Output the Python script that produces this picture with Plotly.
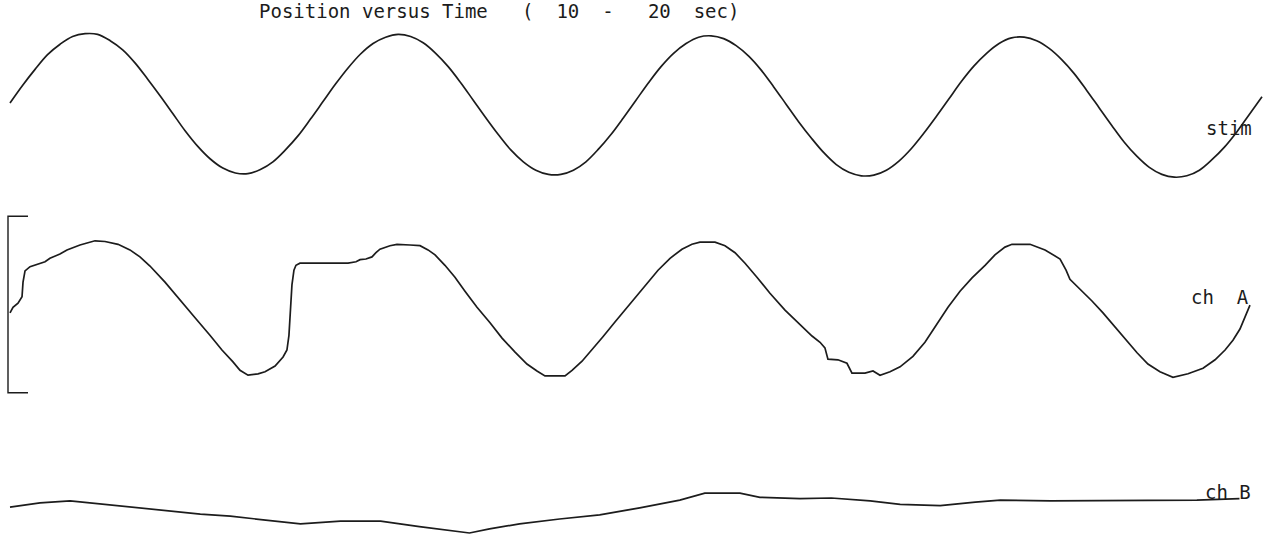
import plotly.graph_objects as go

# ---------------- data ----------------
# time base for the stimulus, 10 .. 20 s in 0.1 s steps
stim_t = [10 + i * 0.1 for i in range(101)]
stim_v = [0.0, 2.5, 4.8, 6.9, 8.4, 9.5, 9.9, 9.8, 8.9, 7.6,
          5.7, 3.4, 1.0, -1.5, -4.0, -6.2, -8.0, -9.3, -10.0, -10.1,
          -9.5, -8.4, -6.7, -4.7, -2.3, 0.2, 2.7, 5.0, 7.0, 8.5,
          9.4, 9.8, 9.5, 8.6, 7.1, 5.2, 2.9, 0.4, -2.1, -4.5,
          -6.7, -8.4, -9.6, -10.2, -10.2, -9.6, -8.4, -6.6, -4.5, -2.1,
          0.4, 2.9, 5.2, 7.1, 8.5, 9.4, 9.6, 9.2, 8.2, 6.7,
          4.7, 2.3, -0.2, -2.7, -5.0, -7.1, -8.8, -9.9, -10.4, -10.3,
          -9.6, -8.3, -6.5, -4.3, -1.9, 0.6, 3.1, 5.3, 7.1, 8.5,
          9.3, 9.4, 8.9, 7.8, 6.2, 4.2, 1.8, -0.7, -3.2, -5.6,
          -7.6, -9.2, -10.2, -10.6, -10.4, -9.6, -8.1, -6.3, -4.1, -1.6,
          0.9]

cha_t = [10.000, 10.024, 10.064, 10.080, 10.096, 10.104, 10.120, 10.160, 10.240, 10.280,
         10.319, 10.399, 10.455, 10.559, 10.679,
         10.759, 10.863, 10.958, 11.038, 11.118, 11.238, 11.358, 11.478, 11.597, 11.693,
         11.781, 11.837, 11.901,
         11.981, 12.037, 12.117, 12.181, 12.212, 12.228, 12.236, 12.244, 12.252, 12.268,
         12.284, 12.316,
         12.700, 12.764, 12.796, 12.843, 12.891, 12.923, 12.955, 13.035, 13.091, 13.195,
         13.275, 13.339, 13.395,
         13.474, 13.554, 13.634, 13.730, 13.834, 13.930, 14.034, 14.129, 14.209, 14.273,
         14.433,
         14.489, 14.569, 14.649, 14.736, 14.832, 14.952, 15.072, 15.176, 15.272, 15.367,
         15.447, 15.511, 15.631,
         15.711, 15.791, 15.871, 15.966, 16.070, 16.190, 16.310, 16.406, 16.470, 16.509,
         16.533, 16.613, 16.685, 16.725, 16.829, 16.893, 16.949, 17.029, 17.109, 17.212,
         17.308, 17.404, 17.492, 17.588, 17.684, 17.788, 17.867, 17.947, 18.003, 18.147,
         18.267, 18.387, 18.435, 18.466, 18.546, 18.642, 18.730, 18.826, 18.922, 19.002,
         19.089, 19.185, 19.289, 19.409, 19.529, 19.625, 19.705, 19.768, 19.824, 19.864,
         19.904]
cha_v = [-0.7, 0.1, 0.7, 1.1, 1.6, 3.7, 5.3, 5.9, 6.3, 6.6,
         7.1, 7.7, 8.3, 9.0, 9.6,
         9.5, 9.1, 8.3, 7.3, 6.0, 3.7, 1.1, -1.4, -3.9, -6.0,
         -7.7, -8.9, -9.6,
         -9.4, -9.1, -8.3, -7.0, -6.0, -3.9, -1.7, 1.1, 3.3, 5.4,
         6.1, 6.4,
         6.4, 6.6, 6.9, 7.0, 7.3, 7.9, 8.4, 8.9, 9.1, 9.0,
         8.9, 8.3, 7.6,
         6.1, 4.4, 2.4, 0.1, -2.1, -4.3, -6.3, -8.0, -9.0, -9.7,
         -9.7,
         -8.9, -7.6, -6.0, -4.1, -2.0, 0.6, 3.3, 5.4, 7.1, 8.4,
         9.1, 9.4, 9.4,
         8.9, 7.9, 6.4, 4.4, 2.1, -0.3, -2.4, -4.0, -4.9, -5.7,
         -7.3, -7.4, -7.9, -9.3, -9.3, -9.0, -9.6, -9.1, -8.4, -6.9,
         -4.9, -2.3, 0.1, 2.4, 4.3, 6.1, 7.6, 8.7, 9.1, 9.1,
         8.3, 7.0, 5.4, 4.1, 2.7, 1.0, -0.7, -2.7, -4.7, -6.4,
         -8.0, -9.1, -9.9, -9.4, -8.6, -7.4, -6.0, -4.6, -3.0, -1.4,
         0.4]

chb_t = [10.00, 10.24, 10.48, 10.64, 10.96, 11.20, 11.52, 11.76, 12.00, 12.32,
         12.64, 12.96, 13.27, 13.51, 13.67, 13.83, 14.07, 14.39, 14.71, 15.03,
         15.35, 15.55, 15.83, 15.99, 16.31, 16.56, 16.87, 17.11, 17.43, 17.71,
         17.91, 18.31, 18.71, 19.11, 19.48, 19.82]
chb_v = [-0.3, 0.3, 0.6, 0.3, -0.3, -0.7, -1.3, -1.6, -2.1, -2.7,
         -2.3, -2.3, -3.1, -3.6, -4.0, -3.4, -2.7, -2.0, -1.4, -0.4,
         0.7, 1.7, 1.7, 1.1, 0.9, 1.0, 0.6, 0.1, -0.1, 0.4,
         0.7, 0.6, 0.6, 0.7, 0.7, 0.9]

cha_scale = [-12.1, 13.1]          # calibration bracket of ch A
channel_names = ["stim", "ch  A", "ch B"]
title_text = "Position versus Time   (  10  -   20  sec)"

# ---------------- layout helpers ----------------
W, H = 1267, 540
PX = 7.0                           # pixels per position unit
T0_PX, T_PX = 10, 125.2            # pixel of t=10 s, pixels per second
lane_px = [103, 308, 505]          # vertical centre of each channel lane
offsets = [-c / PX for c in lane_px]

x_range = [10 - T0_PX / T_PX, 10 + (W - T0_PX) / T_PX]
y_range = [-H / PX, 0]

INK = "#1c1c1c"
line = dict(color=INK, width=1.7)

fig = go.Figure()
fig.add_trace(go.Scatter(x=stim_t, y=[v + offsets[0] for v in stim_v],
                         mode="lines", line=dict(shape="spline", **line),
                         hoverinfo="skip"))
fig.add_trace(go.Scatter(x=cha_t, y=[v + offsets[1] for v in cha_v],
                         mode="lines", line=line, hoverinfo="skip"))
fig.add_trace(go.Scatter(x=chb_t, y=[v + offsets[2] for v in chb_v],
                         mode="lines", line=line, hoverinfo="skip"))

# calibration bracket for ch A
bx0 = 10 - 2 / T_PX
bx1 = 10 + 18 / T_PX
ylo, yhi = cha_scale[0] + offsets[1], cha_scale[1] + offsets[1]
fig.add_trace(go.Scatter(x=[bx1, bx0, bx0, bx1], y=[yhi, yhi, ylo, ylo],
                         mode="lines", line=dict(color=INK, width=1.4),
                         hoverinfo="skip"))

font = dict(family="DejaVu Sans Mono, Liberation Mono, monospace",
            size=19, color=INK)
annotations = [dict(text=title_text.replace(" ", "&nbsp;"), x=257 / W, y=1 - 11 / H,
                    xref="paper", yref="paper", xanchor="left",
                    yanchor="middle", showarrow=False, font=font)]
label_pos = [(1254, 128), (1251, 297), (1253, 492)]
for name, (px, py) in zip(channel_names, label_pos):
    annotations.append(dict(text=name.replace(" ", "&nbsp;"), x=px / W, y=1 - py / H,
                            xref="paper", yref="paper", xanchor="right",
                            yanchor="middle", showarrow=False, font=font))

fig.update_layout(
    width=W, height=H,
    margin=dict(l=0, r=0, t=0, b=0),
    paper_bgcolor="white", plot_bgcolor="white",
    showlegend=False,
    xaxis=dict(range=x_range, visible=False, fixedrange=True),
    yaxis=dict(range=y_range, visible=False, fixedrange=True),
    annotations=annotations,
)

fig.write_html("out.html", config={"displayModeBar": False})
